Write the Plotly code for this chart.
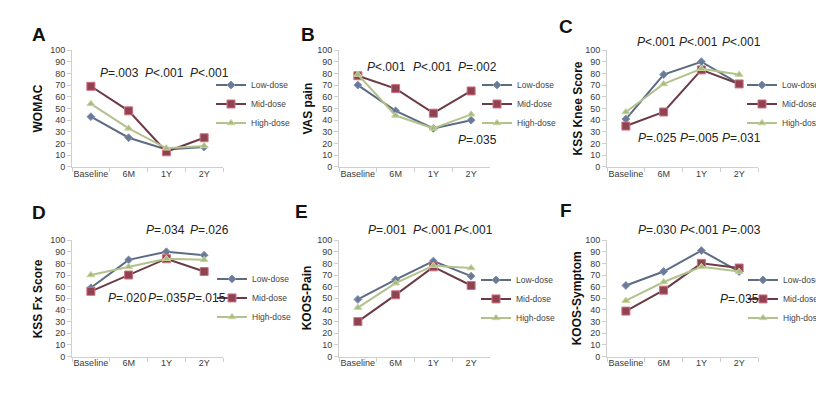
import plotly.graph_objects as go

# ---------------- data ----------------
timepoints = ["Baseline", "6M", "1Y", "2Y"]
groups = ["Low-dose", "Mid-dose", "High-dose"]

womac_low = [43, 25, 15, 17]
womac_mid = [69, 48, 13, 25]
womac_high = [54, 33, 16, 18]

vas_low = [70, 48, 33, 40]
vas_mid = [78, 67, 46, 65]
vas_high = [79, 44, 33, 45]

kss_knee_low = [41, 79, 90, 71]
kss_knee_mid = [35, 47, 83, 71]
kss_knee_high = [47, 71, 84, 79]

kss_fx_low = [59, 83, 90, 87]
kss_fx_mid = [56, 70, 84, 73]
kss_fx_high = [70, 77, 84, 83]

koos_pain_low = [49, 66, 82, 69]
koos_pain_mid = [30, 53, 77, 61]
koos_pain_high = [42, 63, 78, 76]

koos_sym_low = [61, 73, 91, 73]
koos_sym_mid = [39, 57, 80, 76]
koos_sym_high = [48, 64, 77, 73]

panel_letters = ["A", "B", "C", "D", "E", "F"]
panel_titles = ["WOMAC", "VAS pain", "KSS Knee Score", "KSS Fx Score", "KOOS-Pain", "KOOS-Symptom"]
panel_series = [
    (womac_low, womac_mid, womac_high),
    (vas_low, vas_mid, vas_high),
    (kss_knee_low, kss_knee_mid, kss_knee_high),
    (kss_fx_low, kss_fx_mid, kss_fx_high),
    (koos_pain_low, koos_pain_mid, koos_pain_high),
    (koos_sym_low, koos_sym_mid, koos_sym_high),
]
panel_pvalues = [
    ["=.003", "<.001", "<.001"],
    ["<.001", "<.001", "=.002", "=.035"],
    ["<.001", "<.001", "<.001", "=.025", "=.005", "=.031"],
    ["=.034", "=.026", "=.020", "=.035", "=.015"],
    ["=.001", "<.001", "<.001"],
    ["=.030", "<.001", "=.003", "=.035"],
]

# ---------------- layout helpers ----------------
W, H = 824, 393


def px(x):
    return x / W


def py(y):
    return 1 - y / H


# plot areas in pixels: (left, right, top, bottom)
areas = [
    (64, 215, 38, 158), (331, 482, 38, 158), (599, 750, 38, 158),
    (64, 215, 233, 352.5), (331, 482, 233, 352.5), (599, 750, 233, 352.5),
]
# pixel positions of y-title centres, panel letters, legend left/top
ytitle_x = [30, 300, 570, 30, 299, 569]
letter_pos = [(31, 22), (300, 22), (558, 14), (31, 205), (293, 204), (558, 203)]
legend_pos = [(203, 59), (469, 59), (734, 59), (204, 258), (468, 259), (735, 259)]
# P-value annotations: (x-centre px, y-centre px) per text
pval_pos = [
    [(111, 62), (156, 62), (201, 62)],
    [(378, 55), (424, 55), (469, 55), (469, 130)],
    [(648, 30), (690, 30), (733, 30), (649, 128), (691, 128), (733, 128)],
    [(157, 223), (201, 223), (119, 292), (159, 292), (198, 292)],
    [(379, 223), (424, 223), (465, 223)],
    [(649, 223), (691, 223), (733, 223), (731, 293)],
]

styles = [
    dict(line=dict(color="#5d6c82", width=2),
         marker=dict(symbol="diamond", size=6, color="#6a7b98", line=dict(color="#8090b0", width=1))),
    dict(line=dict(color="#6b3a44", width=2),
         marker=dict(symbol="square", size=8, color="#8e4252", line=dict(color="#d27080", width=1))),
    dict(line=dict(color="#b3c18d", width=2),
         marker=dict(symbol="triangle-up", size=7, color="#a9ba7e", line=dict(color="#c8d6a0", width=1))),
]

fig = go.Figure()
layout = dict(
    width=W, height=H,
    margin=dict(l=0, r=0, t=0, b=0),
    paper_bgcolor="white", plot_bgcolor="white",
    font=dict(family="Arial, Liberation Sans, sans-serif", color="#333"),
    showlegend=True,
    annotations=[],
)

for i in range(6):
    n = i + 1
    xa = "x" if n == 1 else f"x{n}"
    ya = "y" if n == 1 else f"y{n}"
    leg = "legend" if n == 1 else f"legend{n}"
    for g, vals, st in zip(groups, panel_series[i], styles):
        fig.add_trace(go.Scatter(
            x=timepoints, y=vals, name=g, mode="lines+markers",
            xaxis=xa, yaxis=ya, legend=leg, **st))
    l, r, t, b = areas[i]
    layout[f"xaxis{'' if n == 1 else n}"] = dict(
        domain=[px(l), px(r)], anchor=ya, type="category",
        categoryorder="array", categoryarray=timepoints,
        range=[-0.5, 3.5], showgrid=False, zeroline=False,
        showline=True, linecolor="#cfcfcf", linewidth=1,
        ticks="outside", tickson="boundaries", ticklen=4, tickcolor="#cfcfcf",
        ticklabelstandoff=-2,
        tickangle=0, tickfont=dict(size=9, color="#3a3a3a"), fixedrange=True,
    )
    layout[f"yaxis{'' if n == 1 else n}"] = dict(
        domain=[py(b), py(t)], anchor=xa, range=[0, 100], dtick=10,
        showgrid=False, zeroline=False, showline=True, linecolor="#cfcfcf",
        linewidth=1, ticks="outside", ticklen=4, tickcolor="#cfcfcf",
        tickfont=dict(size=9, color="#3a3a3a"), fixedrange=True,
    )
    lx, ly = legend_pos[i]
    layout[leg] = dict(
        x=px(lx), y=py(ly), xanchor="left", yanchor="top",
        font=dict(size=8.5, color="#444"), bgcolor="rgba(0,0,0,0)",
        tracegroupgap=0, itemwidth=30,
    )
    # y-axis title
    layout["annotations"].append(dict(
        text=f"<b>{panel_titles[i]}</b>", x=px(ytitle_x[i]), y=py((t + b) / 2),
        xref="paper", yref="paper", textangle=-90, showarrow=False,
        font=dict(size=12, color="#111"), xanchor="center", yanchor="middle"))
    # panel letter
    lx2, ly2 = letter_pos[i]
    layout["annotations"].append(dict(
        text=f"<b>{panel_letters[i]}</b>", x=px(lx2), y=py(ly2),
        xref="paper", yref="paper", showarrow=False,
        font=dict(size=19, color="#111"), xanchor="center", yanchor="middle"))
    # p-values
    for txt, (cx, cy) in zip(panel_pvalues[i], pval_pos[i]):
        layout["annotations"].append(dict(
            text=f"<i>P</i>{txt}", x=px(cx), y=py(cy),
            xref="paper", yref="paper", showarrow=False,
            font=dict(size=12, color="#222"), xanchor="center", yanchor="middle"))

fig.update_layout(**layout)
fig.write_html("out.html")
